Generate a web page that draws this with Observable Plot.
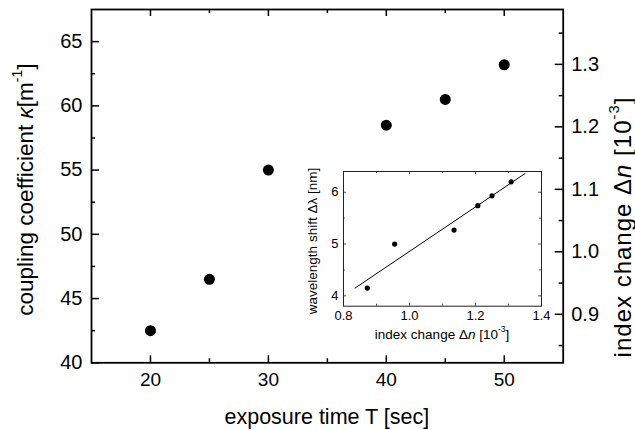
<!DOCTYPE html>
<html><head><meta charset="utf-8">
<script src="https://cdn.jsdelivr.net/npm/d3@7"></script>
<script src="https://cdn.jsdelivr.net/npm/@observablehq/plot@0.6"></script>
<style>
body{margin:0;background:#fff;}
#wrap{position:relative;width:635px;height:430px;font-family:"Liberation Sans",Arial,sans-serif;}
#main{position:absolute;left:0;top:0;}
#inset{position:absolute;left:290px;top:160px;}
</style></head><body><div id="wrap"><div id="main"></div><div id="inset"></div></div>
<script>
// ---- data ----
const exposureTime = [20, 25, 30, 40, 45, 50];
const kappa = [42.5, 46.5, 55, 58.5, 60.5, 63.2];
const indexChange = [0.872, 0.955, 1.135, 1.207, 1.25, 1.308];
const wavelengthShift = [4.15, 5.0, 5.27, 5.74, 5.93, 6.2];
const fitIndex = [0.835, 1.35];
const fitShift = [4.15, 6.36];
// ticks
const xTicks = [20, 30, 40, 50];
const xMinor = [25, 35, 45];
const kTicks = [40, 45, 50, 55, 60, 65];
const kMinor = [42.5, 47.5, 52.5, 57.5, 62.5];
const dnTicks = [0.9, 1.0, 1.1, 1.2, 1.3];
const dnMinor = [0.85, 0.95, 1.05, 1.15, 1.25, 1.35];
const dnPerKappa = 0.02056; // right axis: index change per unit coupling coefficient
const insetXTicks = [0.8, 1.0, 1.2, 1.4];
const insetXMajorInner = [1.0, 1.2];
const insetXMinor = [0.9, 1.1, 1.3];
const insetYTicks = [4, 5, 6];
const insetYMinor = [4.5, 5.5];
// labels: [text, style] style: "" normal, "i" italic, "s" superscript
const xLabel = [["exposure time T [sec]", ""]];
const yLabel = [["coupling coefficient ", ""], ["κ", "i"], ["[m", ""], ["-1", "s"], ["]", ""]];
const y2Label = [["index change Δ", ""], ["n", "i"], [" [10", ""], ["-3", "s"], ["]", ""]];
const insetXLabel = [["index change Δ", ""], ["n", "i"], [" [10", ""], ["-3", "s"], ["]", ""]];
const insetYLabel = [["wavelength shift Δλ [nm]", ""]];

const FONT = "'Liberation Sans', Arial, Helvetica, sans-serif";

function richText(svg, parts, x, y, rotate, size, spacing = 0) {
  const t = d3.select(svg).append("text")
    .attr("transform", `translate(${x},${y}) rotate(${rotate})`)
    .attr("text-anchor", "middle")
    .attr("dominant-baseline", "central")
    .attr("font-size", size)
    .attr("font-family", FONT)
    .attr("letter-spacing", spacing)
    .attr("fill", "black");
  for (const [s, st] of parts) {
    const sp = t.append("tspan").text(s);
    if (st === "i") sp.attr("font-style", "italic");
    if (st === "s") sp.attr("baseline-shift", "super").attr("font-size", size * 0.62);
  }
}

// ---- main chart ----
const W = 635, H = 430, ML = 91, MR = 72.3, MT = 9, MB = 67.7;
const FW = W - ML - MR, FH = H - MT - MB;
const mainData = exposureTime.map((t, i) => ({t, k: kappa[i]}));

const main = Plot.plot({
  width: W, height: H,
  marginLeft: ML, marginRight: MR, marginTop: MT, marginBottom: MB,
  style: {fontFamily: FONT, fontSize: "20px", color: "black", background: "white"},
  x: {domain: [15, 55]},
  y: {domain: [40, 67.5]},
  marks: [
    Plot.frame({stroke: "black", strokeWidth: 1.8}),
    // inward ticks
    Plot.tickX(xTicks, {x: d => d, insetTop: FH - 7, stroke: "black", strokeWidth: 1.5}),
    Plot.tickX(xMinor, {x: d => d, insetTop: FH - 4, stroke: "black", strokeWidth: 1.5}),
    Plot.tickX(xTicks, {x: d => d, insetBottom: FH - 7, stroke: "black", strokeWidth: 1.5}),
    Plot.tickX(xMinor, {x: d => d, insetBottom: FH - 4, stroke: "black", strokeWidth: 1.5}),
    Plot.tickY(kTicks, {y: d => d, insetRight: FW - 8, stroke: "black", strokeWidth: 1.5}),
    Plot.tickY(kMinor, {y: d => d, insetRight: FW - 4, stroke: "black", strokeWidth: 1.5}),
    Plot.tickY(dnTicks, {y: d => d / dnPerKappa, insetLeft: FW - 8, stroke: "black", strokeWidth: 1.5}),
    Plot.tickY(dnMinor, {y: d => d / dnPerKappa, insetLeft: FW - 4, stroke: "black", strokeWidth: 1.5}),
    Plot.axisX(xTicks, {tickSize: 0, tickPadding: 10, fontSize: 19, label: null}),
    Plot.axisY(kTicks, {anchor: "left", tickSize: 0, tickPadding: 9, fontSize: 20, label: null}),
    Plot.axisY(dnTicks.map(d => d / dnPerKappa), {anchor: "right", tickSize: 0, tickPadding: 8, fontSize: 20, label: null,
      tickFormat: d => (d * dnPerKappa).toFixed(1)}),
    Plot.dot(mainData, {x: "t", y: "k", r: 5.5, fill: "black", stroke: null})
  ]
});
document.getElementById("main").append(main);
const ms = main.tagName.toLowerCase() === "svg" ? main : main.querySelector("svg");
richText(ms, xLabel, ML + FW / 2, 417, 0, 21.5);
richText(ms, yLabel, 25, MT + FH / 2 + 4, -90, 22.5);
richText(ms, y2Label, 622, 227, -90, 24, 1);

// ---- inset ----
const IW = 260, IH = 190, IML = 53, IMR = 9, IMT = 11, IMB = 44.3;
const IFW = IW - IML - IMR, IFH = IH - IMT - IMB;
const insetData = indexChange.map((n, i) => ({n, s: wavelengthShift[i]}));
const fitData = fitIndex.map((n, i) => ({n, s: fitShift[i]}));
const inset = Plot.plot({
  width: IW, height: IH,
  marginLeft: IML, marginRight: IMR, marginTop: IMT, marginBottom: IMB,
  style: {fontFamily: FONT, fontSize: "13px", color: "black", background: "transparent"},
  x: {domain: [0.8, 1.4]},
  y: {domain: [3.8, 6.4]},
  marks: [
    Plot.frame({stroke: "#222", strokeWidth: 1}),
    Plot.tickX(insetXMajorInner, {x: d => d, insetTop: IFH - 3, stroke: "#222", strokeWidth: 0.8}),
    Plot.tickX(insetXMinor, {x: d => d, insetTop: IFH - 2, stroke: "#222", strokeWidth: 0.8}),
    Plot.tickX(insetXMajorInner, {x: d => d, insetBottom: IFH - 3, stroke: "#222", strokeWidth: 0.8}),
    Plot.tickX(insetXMinor, {x: d => d, insetBottom: IFH - 2, stroke: "#222", strokeWidth: 0.8}),
    Plot.tickY(insetYTicks, {y: d => d, insetRight: IFW - 3, stroke: "#222", strokeWidth: 0.8}),
    Plot.tickY(insetYMinor, {y: d => d, insetRight: IFW - 2, stroke: "#222", strokeWidth: 0.8}),
    Plot.tickY(insetYTicks, {y: d => d, insetLeft: IFW - 3, stroke: "#222", strokeWidth: 0.8}),
    Plot.tickY(insetYMinor, {y: d => d, insetLeft: IFW - 2, stroke: "#222", strokeWidth: 0.8}),
    Plot.axisX(insetXTicks, {tickSize: 0, tickPadding: 5, fontSize: 13, label: null, tickFormat: d => d.toFixed(1)}),
    Plot.axisY(insetYTicks, {anchor: "left", tickSize: 0, tickPadding: 5, fontSize: 13, label: null, tickFormat: d => String(d)}),
    Plot.line(fitData, {x: "n", y: "s", stroke: "black", strokeWidth: 1}),
    Plot.dot(insetData, {x: "n", y: "s", r: 2.6, fill: "black", stroke: null})
  ]
});
document.getElementById("inset").append(inset);
const is = inset.tagName.toLowerCase() === "svg" ? inset : inset.querySelector("svg");
richText(is, insetXLabel, IML + IFW / 2, 174, 0, 13.5);
richText(is, insetYLabel, 22, 81, -90, 13.5);
</script></body></html>
